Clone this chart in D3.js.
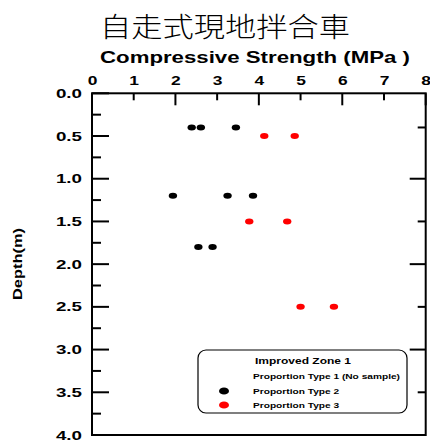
<!DOCTYPE html>
<html><head><meta charset="utf-8">
<script src="https://cdn.jsdelivr.net/npm/d3@7"></script>
<style>
html,body{margin:0;padding:0;background:#fff;}
svg{display:block;}
text{font-family:"Liberation Sans",Arial,sans-serif;font-weight:bold;fill:#000;}
</style></head>
<body>
<script>
const chartTitle = "自走式現地拌合車";
const xTitle = "Compressive Strength (MPa )";
const yTitle = "Depth(m)";
const xTickLabels = [0,1,2,3,4,5,6,7,8];
const xMajor = [0,2,4,6,8];
const xMinor = [1,3,5,7];
const yTickLabels = [0,0.5,1,1.5,2,2.5,3,3.5,4];
const yMinor = [0.25,0.75,1.25,1.75,2.25,2.75,3.25,3.75];
const rightMajor = [1,2,3];
const rightMinor = [0.4,1.5,2.5,3.5];
const type2Depth = [0.4,0.4,0.4,1.2,1.2,1.2,1.8,1.8];
const type2Strength = [2.39,2.61,3.45,1.94,3.25,3.86,2.55,2.89];
const type3Depth = [0.5,0.5,1.5,1.5,2.5,2.5];
const type3Strength = [4.13,4.86,3.77,4.68,5.0,5.8];
const legendTitle = "Improved Zone 1";
const legendItems = ["Proportion Type 1 (No sample)","Proportion Type 2","Proportion Type 3"];
const legendColors = [null,"#000","#ff0000"];

const W=430,H=440;
const L=92,R=425.7,T=93.3,B=435;
const svg=d3.select("body").append("svg").attr("width",W).attr("height",H);
const x=d3.scaleLinear().domain([0,8]).range([L,R]);
const y=d3.scaleLinear().domain([0,4]).range([T,B]);

function stretch(sel,sx){
  sel.each(function(){
    const w=this.getComputedTextLength();
    this.setAttribute("textLength",w*sx);
    this.setAttribute("lengthAdjust","spacingAndGlyphs");
  });
}
function fit(sel,w){sel.attr("textLength",w).attr("lengthAdjust","spacingAndGlyphs");}

// titles
svg.append("text").attr("x",225).attr("y",37).attr("text-anchor","middle")
  .style("font-family","'Noto Sans CJK TC'").style("font-weight","300").style("font-size","27px")
  .text(chartTitle).call(fit,250);
svg.append("text").attr("x",255).attr("y",63).attr("text-anchor","middle")
  .style("font-size","16.5px").text(xTitle).call(fit,310);
svg.append("text").attr("transform","translate(22,264) rotate(-90)").attr("text-anchor","middle")
  .style("font-size","12.5px").text(yTitle).call(fit,72);

// top axis labels
const gx=svg.append("g").attr("transform",`translate(0,${T})`)
  .call(d3.axisTop(x).tickValues(xTickLabels).tickSize(0).tickPadding(8).tickFormat(d3.format("d")));
gx.select(".domain").remove();
gx.selectAll("text").style("font-size","12px").style("font-family","'Liberation Sans'").call(stretch,1.45);

// left axis labels
const gy=svg.append("g").attr("transform",`translate(${L},0)`)
  .call(d3.axisLeft(y).tickValues(yTickLabels).tickSize(0).tickPadding(10).tickFormat(d3.format(".1f")));
gy.select(".domain").remove();
gy.selectAll("text").style("font-size","12.5px").style("font-family","'Liberation Sans'").call(stretch,1.5);

// ticks
const tk=svg.append("g").attr("stroke","#000").attr("stroke-width",2);
tk.selectAll(".xM").data(xMajor).join("line").attr("x1",d=>x(d)).attr("x2",d=>x(d)).attr("y1",T).attr("y2",T+12);
tk.selectAll(".xm").data(xMinor).join("line").attr("x1",d=>x(d)).attr("x2",d=>x(d)).attr("y1",T).attr("y2",T+7);
tk.selectAll(".yM").data(yTickLabels).join("line").attr("y1",d=>y(d)).attr("y2",d=>y(d)).attr("x1",L).attr("x2",L+17);
tk.selectAll(".ym").data(yMinor).join("line").attr("y1",d=>y(d)).attr("y2",d=>y(d)).attr("x1",L).attr("x2",L+9);
tk.selectAll(".rM").data(rightMajor).join("line").attr("y1",d=>y(d)).attr("y2",d=>y(d)).attr("x1",R).attr("x2",R-16);
tk.selectAll(".rm").data(rightMinor).join("line").attr("y1",d=>y(d)).attr("y2",d=>y(d)).attr("x1",R).attr("x2",R-8);

// frame
svg.append("rect").attr("x",L).attr("y",T).attr("width",R-L).attr("height",B-T)
  .attr("fill","none").attr("stroke","#000").attr("stroke-width",2);

// points
svg.append("g").selectAll("ellipse").data(type2Depth.map((d,i)=>[type2Strength[i],d])).join("ellipse")
  .attr("cx",d=>x(d[0])).attr("cy",d=>y(d[1])).attr("rx",4.2).attr("ry",3).attr("fill","#000");
svg.append("g").selectAll("ellipse").data(type3Depth.map((d,i)=>[type3Strength[i],d])).join("ellipse")
  .attr("cx",d=>x(d[0])).attr("cy",d=>y(d[1])).attr("rx",4.2).attr("ry",3).attr("fill","#ff0000");

// legend
const lg=svg.append("g");
lg.append("rect").attr("x",198).attr("y",350).attr("width",209).attr("height",63).attr("rx",8)
  .attr("fill","#fff").attr("stroke","#000").attr("stroke-width",1.2);
lg.append("text").attr("x",255).attr("y",364).style("font-size","9.5px").text(legendTitle).call(fit,96);
const itemY=[379,394,408];
const items=[];
legendItems.forEach((t,i)=>{
  items.push(lg.append("text").attr("x",253).attr("y",itemY[i]).style("font-size","8px").text(t).node());
  if(legendColors[i]) lg.append("ellipse").attr("cx",224).attr("cy",itemY[i]-3).attr("rx",5).attr("ry",3.6).attr("fill",legendColors[i]);
});
const sxLeg=147/items[0].getComputedTextLength();
d3.selectAll(items).call(stretch,sxLeg);
</script>
</body></html>
